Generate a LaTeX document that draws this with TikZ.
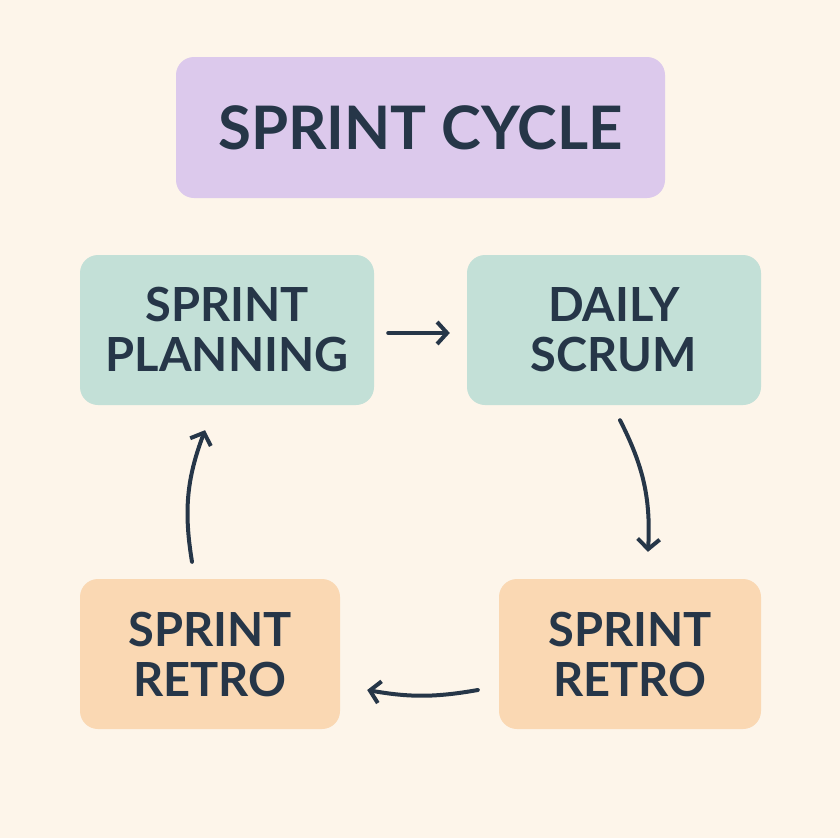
\documentclass[tikz,border=0pt]{standalone}
\usepackage{fontspec}
\setmainfont{Lato}
\usetikzlibrary{arrows.meta}
\definecolor{bgc}{HTML}{FDF5EA}
\definecolor{ink}{HTML}{263648}
\definecolor{purp}{HTML}{DCC9EC}
\definecolor{mint}{HTML}{C3E0D7}
\definecolor{peach}{HTML}{FAD8B3}
\tikzset{
  box/.style={rounded corners=18pt, draw=none, text=ink, align=center,
    font=\fontsize{47}{50}\selectfont\bfseries, inner sep=0pt},
  flow/.style={draw=ink, line width=4pt, line cap=round, line join=round,
    -{Straight Barb[length=10pt,width=22pt]}}
}
\begin{document}
\begin{tikzpicture}[x=1pt,y=-1pt]
  \fill[bgc] (0,0) rectangle (840,838);
  % boxes
  \node[box, fill=purp, minimum width=489pt, minimum height=141pt,
    font=\fontsize{60}{64}\selectfont\bfseries] (title) at (420.5,127.5) {SPRINT CYCLE};
  \node[box, fill=mint, minimum width=294pt, minimum height=150pt] (plan) at (227,330) {SPRINT\\PLANNING};
  \node[box, fill=mint, minimum width=294pt, minimum height=150pt] (daily) at (614,330) {DAILY\\SCRUM};
  \node[box, fill=peach, minimum width=262pt, minimum height=150pt] (retroR) at (630,654) {SPRINT\\RETRO};
  \node[box, fill=peach, minimum width=260pt, minimum height=150pt] (retroL) at (210,654) {SPRINT\\RETRO};
  % arrows
  \draw[flow] ([xshift=14pt,yshift=-3pt]plan.east) -- ([xshift=-17pt,yshift=-3pt]daily.west);
  \draw[flow] ([xshift=6pt,yshift=-15pt]daily.south) to[bend left=15] ([xshift=18pt,yshift=27pt]retroR.north);
  \draw[flow] ([xshift=-21pt,yshift=-36pt]retroR.west) to[bend left=10] ([xshift=27pt,yshift=-36pt]retroL.east);
  \draw[flow] ([xshift=-18pt,yshift=17pt]retroL.north) to[bend left=15] ([xshift=-22pt,yshift=-25pt]plan.south);
\end{tikzpicture}
\end{document}
